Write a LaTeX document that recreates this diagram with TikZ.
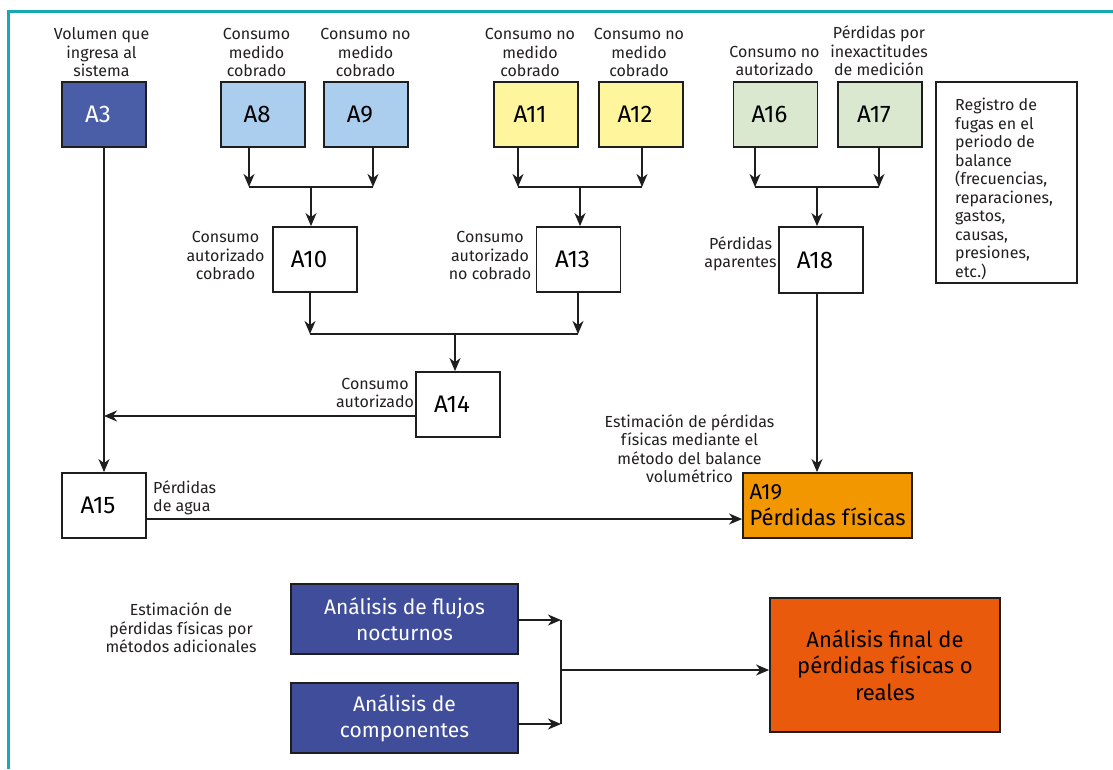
\documentclass[tikz,border=0pt]{standalone}
\usepackage{fontspec}
\setmainfont{Fira Sans}
\usetikzlibrary{arrows.meta}
\definecolor{teal}{RGB}{23,168,184}
\definecolor{edge}{RGB}{30,30,30}
\definecolor{txt}{RGB}{35,31,32}
\definecolor{dblue}{RGB}{74,94,168}
\definecolor{lblue}{RGB}{172,206,238}
\definecolor{lyel}{RGB}{255,245,157}
\definecolor{lgreen}{RGB}{217,232,206}
\definecolor{orng}{RGB}{243,151,0}
\definecolor{bblue}{RGB}{64,77,155}
\definecolor{rorng}{RGB}{233,90,12}
\tikzset{
  lbl/.style={font=\fontsize{16}{18.5}\selectfont, text=txt, inner sep=0pt, align=center},
  abox/.style={draw=edge, line width=1.8pt, minimum width=84pt, minimum height=65pt, inner sep=0pt, font=\fontsize{24}{26}\selectfont, execute at begin node={\hspace*{-12pt}}},
  wbox/.style={draw=edge, line width=1.8pt, minimum height=65pt, inner sep=0pt, align=left, font=\fontsize{22}{26}\selectfont},
  bigbox/.style={draw=edge, line width=1.8pt, inner sep=0pt, align=center, font=\fontsize{21}{26}\selectfont},
  arr/.style={-{Stealth[length=13pt,width=11pt,inset=4pt]}, line width=1.6pt, draw=edge},
  ln/.style={line width=1.6pt, draw=edge},
}
\begin{document}
\begin{tikzpicture}[x=1pt,y=-1pt]
\useasboundingbox (0,0) rectangle (1113,769);
\fill[white] (0,0) rectangle (1113,769);
\draw[teal, line width=3pt] (8.7,769) -- (8.7,11.3) -- (1113,11.3);

% top row boxes
\node[abox, fill=dblue, text=white] (a3) at (104,114.5) {A3};
\node[abox, fill=lblue] (a8) at (263,114.5) {A8};
\node[abox, fill=lblue] (a9) at (366,114.5) {A9};
\node[abox, fill=lyel] (a11) at (536,114.5) {A11};
\node[abox, fill=lyel] (a12) at (641,114.5) {A12};
\node[abox, fill=lgreen] (a16) at (775.5,114.5) {A16};
\node[abox, fill=lgreen] (a17) at (880,114.5) {A17};
\node[draw=edge, line width=1.8pt, minimum width=141pt, minimum height=201pt, inner sep=0pt] (reg) at (1006.5,182.5) {};
\node[lbl, align=left, anchor=north west] (regtxt) at (955,98) {Registro de\\fugas en el\\periodo de\\balance\\(frecuencias,\\reparaciones,\\gastos,\\causas,\\presiones,\\etc.)};

% top labels
\node[lbl, anchor=south] (l3) at (101.5,77) {Volumen que\\ingresa al\\sistema};
\node[lbl, anchor=south] (l8) at (256.5,77) {Consumo\\medido\\cobrado};
\node[lbl, anchor=south] (l9) at (365.5,77) {Consumo no\\medido\\cobrado};
\node[lbl, anchor=south] (l11) at (530,77) {Consumo no\\medido\\cobrado};
\node[lbl, anchor=south] (l12) at (639,77) {Consumo no\\medido\\cobrado};
\node[lbl, anchor=south] (l16) at (774.5,76) {Consumo no\\autorizado};
\node[lbl, anchor=south] (l17) at (879,76) {Pérdidas por\\inexactitudes\\de medición};

% second row
\node[abox] (a10) at (315,259.5) {A10};
\node[abox] (a13) at (578.5,259.5) {A13};
\node[abox, minimum height=66pt] (a18) at (821,260) {A18};
\node[lbl, anchor=south] (l10) at (225.5,280) {Consumo\\autorizado\\cobrado};
\node[lbl, anchor=south] (l13) at (490,280) {Consumo\\autorizado\\no cobrado};
\node[lbl, anchor=south] (l18) at (740.5,271.5) {Pérdidas\\aparentes};

% third row
\node[abox] (a14) at (458,404.5) {A14};
\node[lbl, anchor=south] (l14) at (375,408) {Consumo\\autorizado};
\node[abox] (a15) at (104,505.5) {A15};
\node[lbl, align=left, anchor=south west] (l15) at (153,515.5) {Pérdidas\\de agua};
\node[wbox, fill=orng, minimum width=169pt] (a19) at (827.5,505.5) {A19\\Pérdidas físicas};
\node[lbl, anchor=south] (l19) at (689.5,483) {Estimación de pérdidas\\físicas mediante el\\método del balance\\volumétrico};

% bottom
\node[bigbox, fill=bblue, text=white, minimum width=227pt, minimum height=70pt] (flujos) at (404.5,619) {Análisis de flujos\\nocturnos};
\node[bigbox, fill=bblue, text=white, minimum width=227pt, minimum height=70pt] (comp) at (404.5,718) {Análisis de\\componentes};
\node[bigbox, fill=rorng, minimum width=230pt, minimum height=134pt, font=\fontsize{22}{26.5}\selectfont] (final) at (885,665) {Análisis final de\\pérdidas físicas o\\reales};
\node[lbl, anchor=south] (lb) at (181,653) {Estimación de\\pérdidas físicas por\\métodos adicionales};

% junction coordinates
\coordinate (h1l) at (249,187); \coordinate (h1r) at (373,187); \coordinate (h1m) at (311,187);
\coordinate (h2l) at (518,187); \coordinate (h2r) at (642,187); \coordinate (h2m) at (580,187);
\coordinate (h3l) at (755,187); \coordinate (h3r) at (879,187); \coordinate (h3m) at (817,187);
\coordinate (h4l) at (310,334); \coordinate (h4r) at (578,334); \coordinate (h4m) at (455,334);
\coordinate (c14) at (104,416);
\coordinate (y15) at (0,519);
\coordinate (b1) at (561,620); \coordinate (b2) at (561,724); \coordinate (bm) at (561,670);

% connectors group 1
\draw[arr] (h1l |- a8.south) -- (h1l);
\draw[arr] (h1r |- a9.south) -- (h1r);
\draw[ln] (h1l) -- (h1r);
\draw[arr] (h1m) -- (h1m |- a10.north);
% group 2
\draw[arr] (h2l |- a11.south) -- (h2l);
\draw[arr] (h2r |- a12.south) -- (h2r);
\draw[ln] (h2l) -- (h2r);
\draw[arr] (h2m) -- (h2m |- a13.north);
% group 3
\draw[arr] (h3l |- a16.south) -- (h3l);
\draw[arr] (h3r |- a17.south) -- (h3r);
\draw[ln] (h3l) -- (h3r);
\draw[arr] (h3m) -- (h3m |- a18.north);
% group 4
\draw[arr] (h4l |- a10.south) -- (h4l);
\draw[arr] (h4r |- a13.south) -- (h4r);
\draw[ln] (h4l) -- (h4r);
\draw[arr] (h4m) -- (h4m |- a14.north);
% A14 to main line, A3 to A15
\draw[arr] (a14.west |- c14) -- (c14);
\draw[arr] (a3.south) -- (a15.north);
% A15 to A19, A18 to A19
\draw[arr] (a15.east |- y15) -- (a19.west |- y15);
\draw[arr] (h3m |- a18.south) -- (h3m |- a19.north);
% bottom
\draw[arr] (flujos.east |- b1) -- (b1);
\draw[arr] (comp.east |- b2) -- (b2);
\draw[ln] (b1) -- (b2);
\draw[arr] (bm) -- (final.west |- bm);
\end{tikzpicture}
\end{document}
